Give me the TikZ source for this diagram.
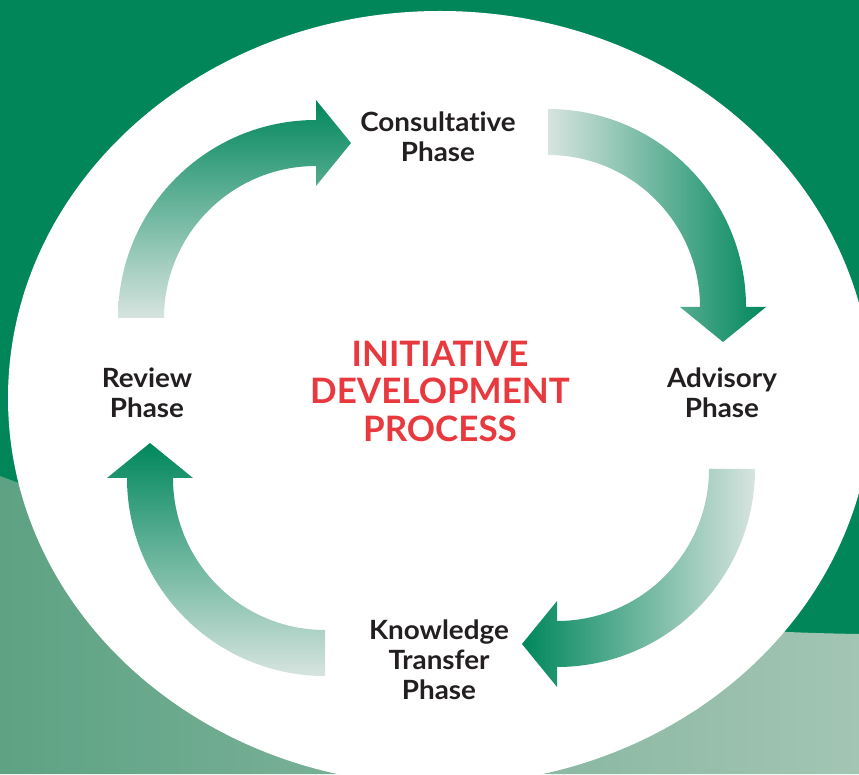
\documentclass[tikz,border=0pt]{standalone}
\usepackage{fontspec}
\setmainfont{Lato}[Ligatures=NoCommon]
\newfontfamily\labelfont{Lato}[Ligatures=NoCommon, FakeStretch=1.05]
\definecolor{bgdark}{HTML}{008659}
\definecolor{lowleft}{HTML}{5DA283}
\definecolor{lowright}{HTML}{A3C5B4}
\definecolor{adark}{HTML}{00875C}
\definecolor{alight}{HTML}{D7E4DF}
\definecolor{titlered}{HTML}{E8393F}
\definecolor{labelink}{HTML}{231F20}
\tikzset{
  phase/.style={font=\labelfont\bfseries\fontsize{26.5}{30}\selectfont, text=labelink, align=center, inner sep=0pt},
  heading/.style={font=\bfseries\fontsize{35}{37.5}\selectfont, text=titlered, align=center, inner sep=0pt},
  shadeup/.style={top color=adark, bottom color=alight},
  shaderight/.style={left color=alight, right color=adark},
  shadeleft/.style={left color=adark, right color=alight},
}
\begin{document}
\begin{tikzpicture}[x=1pt,y=1pt]
\useasboundingbox (0,0) rectangle (859,774);
\clip (0,0) rectangle (859,774);
% background and lower band
\fill[bgdark] (0,0) rectangle (859,774);
\shade[left color=lowleft, right color=lowright]
  (0,298) .. controls (300,184) and (600,144) .. (859,140) -- (859,0) -- (0,0) -- cycle;
% central white ellipse
\fill[white] (440,376) ellipse [x radius=432, y radius=387];

% arc centres of the four cycle arrows
\coordinate (c1) at (316,456);
\coordinate (c2) at (548,467);
\coordinate (c3) at (557,305);
\coordinate (c4) at (325,296);

% Review -> Consultative
\shade[shadeup] ([xshift=-198]c1) arc[start angle=180, end angle=90, radius=198]
  -- ([yshift=218]c1) -- ([xshift=35,yshift=175]c1) -- ([yshift=132]c1)
  -- ([yshift=152]c1) arc[start angle=90, end angle=180, radius=152] -- cycle;
% Consultative -> Advisory
\shade[shaderight] ([yshift=198]c2) arc[start angle=90, end angle=0, radius=198]
  -- ([xshift=218]c2) -- ([xshift=175,yshift=-35]c2) -- ([xshift=132]c2)
  -- ([xshift=152]c2) arc[start angle=0, end angle=90, radius=152] -- cycle;
% Advisory -> Knowledge Transfer
\shade[shadeleft] ([xshift=198]c3) arc[start angle=0, end angle=-90, radius=198]
  -- ([yshift=-218]c3) -- ([xshift=-35,yshift=-175]c3) -- ([yshift=-132]c3)
  -- ([yshift=-152]c3) arc[start angle=-90, end angle=0, radius=152] -- cycle;
% Knowledge Transfer -> Review
\shade[shadeup] ([yshift=-198]c4) arc[start angle=-90, end angle=-180, radius=198]
  -- ([xshift=-218]c4) -- ([xshift=-175,yshift=35]c4) -- ([xshift=-132]c4)
  -- ([xshift=-152]c4) arc[start angle=180, end angle=270, radius=152] -- cycle;

% labels
\node[phase] (consult) at (438,637) {Consultative\\Phase};
\node[phase] (advisory) at (722,381) {Advisory\\Phase};
\node[phase] (transfer) at (439,114) {Knowledge\\Transfer\\Phase};
\node[phase] (review) at (147,381) {Review\\Phase};
\node[heading] (title) at (440,383) {INITIATIVE\\DEVELOPMENT\\PROCESS};
\end{tikzpicture}
\end{document}
